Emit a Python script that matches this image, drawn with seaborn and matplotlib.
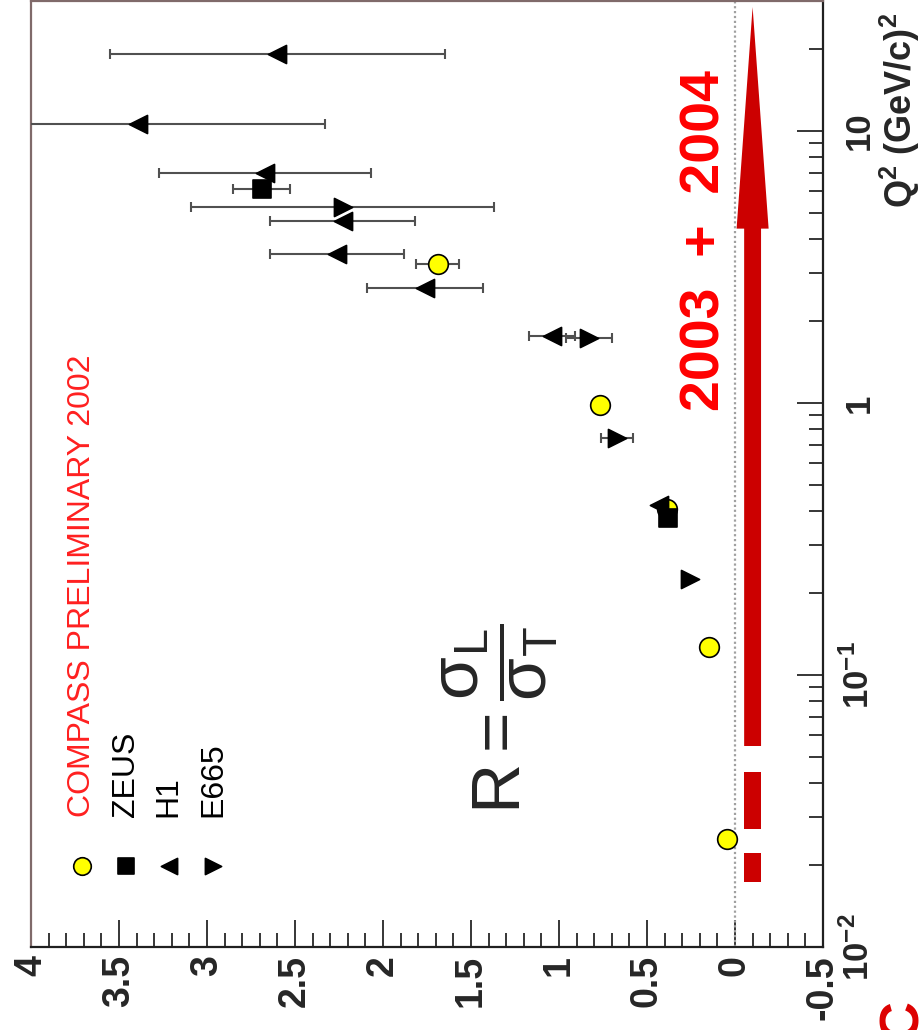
import matplotlib.pyplot as plt
import numpy as np
import pandas as pd
import seaborn as sns
from matplotlib.ticker import MultipleLocator, LogLocator, NullFormatter

sns.set_style("white")
plt.rcParams['font.family'] = ['Liberation Sans', 'DejaVu Sans']
plt.rcParams['mathtext.fontset'] = 'custom'
plt.rcParams['mathtext.rm'] = 'Liberation Sans'
plt.rcParams['mathtext.bf'] = 'Liberation Sans:bold'
plt.rcParams['mathtext.it'] = 'Liberation Sans:italic'

# R = sigma_L / sigma_T versus Q^2 (picture is drawn turned by 90 degrees)
compass_q2 = [0.025, 0.127, 0.406, 0.98, 3.25]
compass_r = [0.045, 0.15, 0.386, 0.767, 1.69]
compass_err = [0, 0, 0, 0, 0.12]

zeus_q2 = [0.377, 6.1]
zeus_r = [0.38, 2.69]
zeus_err = [0, 0.16]

h1_q2 = [0.42, 1.76, 2.65, 3.53, 4.67, 7.0, 10.6, 19.2]
h1_r = [0.43, 1.04, 1.76, 2.26, 2.23, 2.67, 3.39, 2.60]
h1_err = [0, 0.13, 0.33, 0.38, 0.41, 0.6, 1.06, 0.95]

e665_q2 = [0.225, 0.745, 1.73, 5.25]
e665_r = [0.256, 0.67, 0.83, 2.23]
e665_err = [0, 0.09, 0.13, 0.86]

r_ticks = [4, 3.5, 3, 2.5, 2, 1.5, 1, 0.5, 0, -0.5]
r_labels = ['4', '3.5', '3', '2.5', '2', '1.5', '1', '0.5', '0', '-0.5']
q2_ticks = [0.01, 0.1, 1, 10]
q2_labels = [r'$\mathbf{10^{-2}}$', r'$\mathbf{10^{-1}}$', '1', '10']

names = ['COMPASS', 'ZEUS', 'H1', 'E665']
legend_labels = ['COMPASS PRELIMINARY 2002', 'ZEUS', 'H1', 'E665']
markers = {'COMPASS': 'o', 'ZEUS': 's', 'H1': '<', 'E665': '>'}
colors = {'COMPASS': '#ffff00', 'ZEUS': 'black', 'H1': 'black', 'E665': 'black'}
sizes = {'COMPASS': 200, 'ZEUS': 175, 'H1': 170, 'E665': 170}

frames = []
for name, q2, r, err in [('COMPASS', compass_q2, compass_r, compass_err),
                         ('ZEUS', zeus_q2, zeus_r, zeus_err),
                         ('H1', h1_q2, h1_r, h1_err),
                         ('E665', e665_q2, e665_r, e665_err)]:
    frames.append(pd.DataFrame({'exp': name, 'Q2': q2, 'R': r, 'err': err}))
df = pd.concat(frames, ignore_index=True)

fig = plt.figure(figsize=(9.2, 10.3), dpi=100)
ax = fig.add_axes([31 / 920, 83 / 1030, 792 / 920, 946 / 1030])

ax.axvline(0, color='#a0a0a0', ls=(0, (1, 1.2)), lw=1.6, zorder=1)

# red arrow for 2003 + 2004 reach
xc = -0.1
ax.fill([xc - 0.048, xc + 0.048, xc + 0.048, xc + 0.091, xc, xc - 0.091, xc - 0.048],
        [0.0548, 0.0548, 4.37, 4.37, 28.5, 4.37, 4.37], color='#cc0000', lw=0, zorder=2)
for lo, hi in [(0.0272, 0.044), (0.0173, 0.0221)]:
    ax.fill([xc - 0.048, xc + 0.048, xc + 0.048, xc - 0.048], [lo, lo, hi, hi],
            color='#cc0000', lw=0, zorder=2)

bars = df[df.err > 0]
ax.errorbar(bars.R, bars.Q2, xerr=bars.err, fmt='none', ecolor='#505050',
            elinewidth=1.5, capsize=3.8, capthick=1.5, zorder=3)

for name in names:
    sub = df[df.exp == name]
    sns.scatterplot(data=sub, x='R', y='Q2', marker=markers[name], color=colors[name],
                    s=sizes[name], edgecolor='black', linewidth=1.2, ax=ax,
                    legend=False, zorder=4)

ax.set_xlabel('')
ax.set_ylabel('')
ax.set_yscale('log')
ax.set_xlim(4, -0.5)
ax.set_ylim(0.01, 30)

ax.set_xticks(r_ticks, labels=r_labels)
ax.xaxis.set_minor_locator(MultipleLocator(0.1))
ax.tick_params(axis='x', which='both', direction='in', bottom=True, top=False,
               labelrotation=90, pad=6, labelsize=27, width=1.3)
ax.tick_params(axis='x', which='major', length=19.5)
ax.tick_params(axis='x', which='minor', length=10)
for lbl in ax.get_xticklabels():
    lbl.set_fontweight('bold')

ax.set_yticks(q2_ticks, labels=q2_labels)
ax.yaxis.set_minor_locator(LogLocator(base=10, subs=np.arange(2, 10) * 1.0, numticks=20))
ax.yaxis.set_minor_formatter(NullFormatter())
ax.tick_params(axis='y', which='both', direction='in', left=False, right=True,
               labelleft=False, labelright=True, pad=33, labelsize=25, width=1.3)
ax.tick_params(axis='y', which='major', length=19)
ax.tick_params(axis='y', which='minor', length=10)
for lbl in ax.yaxis.get_ticklabels():
    lbl.set(rotation=90, rotation_mode='anchor', ha='center', va='baseline',
            fontweight='bold')

for side in ['left', 'top']:
    ax.spines[side].set_color('#806a6a')
for side in ['right', 'bottom']:
    ax.spines[side].set_color('#202020')
for side in ax.spines:
    ax.spines[side].set_linewidth(1.6)

ax.text(1.112, 0.781, r'$\mathbf{Q^{2}\ (GeV/c)^{2}}$', transform=ax.transAxes,
        rotation=90, rotation_mode='anchor', ha='left', va='baseline', fontsize=26)

# legend drawn turned, like the picture
leg_x = [0.0644, 0.12, 0.174, 0.23]
for i, name in enumerate(names):
    ax.scatter([leg_x[i]], [0.0856], marker=markers[name], color=colors[name],
               s=sizes[name] * 0.8, edgecolor='black', linewidth=1.2,
               transform=ax.transAxes, clip_on=False, zorder=5)
    ax.text(leg_x[i], 0.137, legend_labels[i], transform=ax.transAxes, rotation=90,
            ha='center', va='bottom', fontsize=23,
            color='#ff2020' if name == 'COMPASS' else 'black')

ax.text(0.592, 0.242, r'$\mathrm{R = \dfrac{σ_L}{σ_T}}$', transform=ax.transAxes,
        rotation=90, ha='center', va='center', fontsize=50)
ax.text(0.17, 3.95, '2003  +  2004', rotation=90, ha='center', va='center',
        fontsize=40, fontweight='bold', color='#ff0000')

fig.text(0.982, 0.03, 'C', rotation=90, ha='center', va='top', fontsize=40,
         fontweight='bold', color='#dd0000')

fig.savefig('out.png', dpi=100)
